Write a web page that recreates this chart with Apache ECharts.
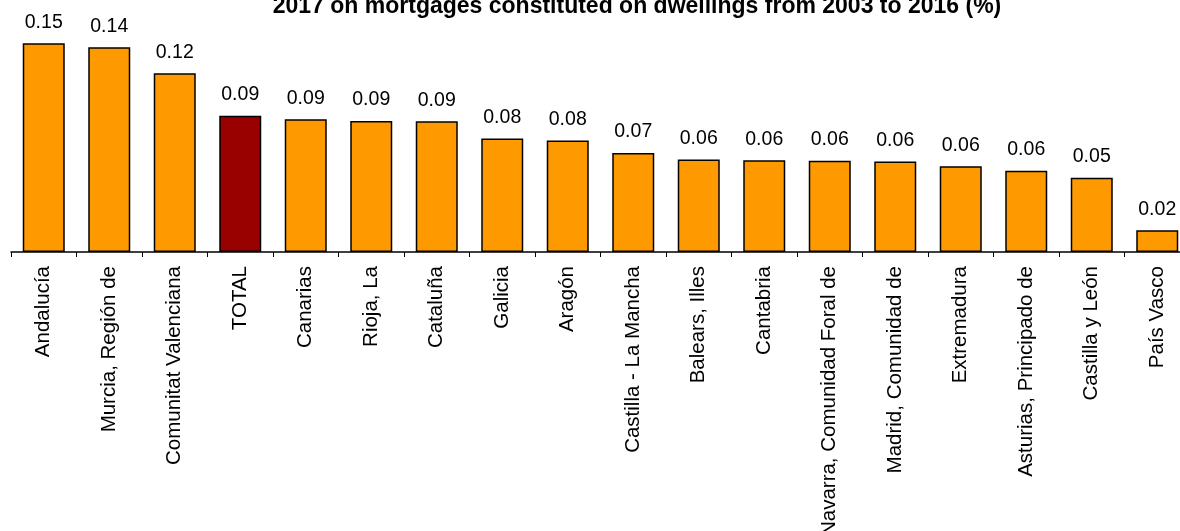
<!DOCTYPE html>
<html>
<head>
<meta charset="utf-8">
<script src="https://cdn.jsdelivr.net/npm/echarts@6/dist/echarts.min.js"></script>
<style>
html,body{margin:0;padding:0;background:#fff;}
#chart{width:1180px;height:531px;}
</style>
</head>
<body>
<div id="chart"></div>
<script>
const titleText = '2017 on mortgages constituted on dwellings from 2003 to 2016 (%)';
const categories = ['Andalucía', 'Murcia, Región de', 'Comunitat Valenciana', 'TOTAL', 'Canarias', 'Rioja, La', 'Cataluña', 'Galicia', 'Aragón', 'Castilla - La Mancha', 'Balears, Illes', 'Cantabria', 'Navarra, Comunidad Foral de', 'Madrid, Comunidad de', 'Extremadura', 'Asturias, Principado de', 'Castilla y León', 'País Vasco'];
const values = [0.1452, 0.1424, 0.1243, 0.0948, 0.0923, 0.0912, 0.0910, 0.0789, 0.0775, 0.0689, 0.0643, 0.0638, 0.0634, 0.0629, 0.0597, 0.0566, 0.0516, 0.0152];
const highlight = 'TOTAL';

const chart = echarts.init(document.getElementById('chart'));
chart.setOption({
  animation: false,
  backgroundColor: '#ffffff',
  title: {
    text: titleText,
    left: 637,
    textAlign: 'center',
    top: -5,
    padding: 0,
    textStyle: { fontFamily: 'Liberation Sans', fontWeight: 'bold', fontSize: 23, color: '#000' }
  },
  grid: { left: 11, right: -10, top: 22, bottom: 279, containLabel: false, outerBoundsMode: 'none' },
  xAxis: {
    type: 'category',
    data: categories,
    axisLine: { lineStyle: { color: '#000', width: 1.5 } },
    axisTick: { show: true, length: 5, lineStyle: { color: '#000', width: 1 } },
    axisLabel: { rotate: 90, interval: 0, margin: 14, fontFamily: 'Liberation Sans', fontSize: 20.5, color: '#000' }
  },
  yAxis: {
    type: 'value', min: 0, max: 0.16, show: false, splitLine: { show: false }
  },
  series: [{
    type: 'bar',
    barWidth: 42,
    data: values.map((v, i) => ({
      value: v,
      itemStyle: { color: categories[i] === highlight ? '#990000' : '#FF9900', borderColor: '#000', borderWidth: 1.5 }
    })),
    label: {
      show: true, position: 'top', distance: 11,
      formatter: p => p.value.toFixed(2),
      fontFamily: 'Liberation Sans', fontSize: 19.5, color: '#000'
    }
  }]
});
</script>
</body>
</html>
